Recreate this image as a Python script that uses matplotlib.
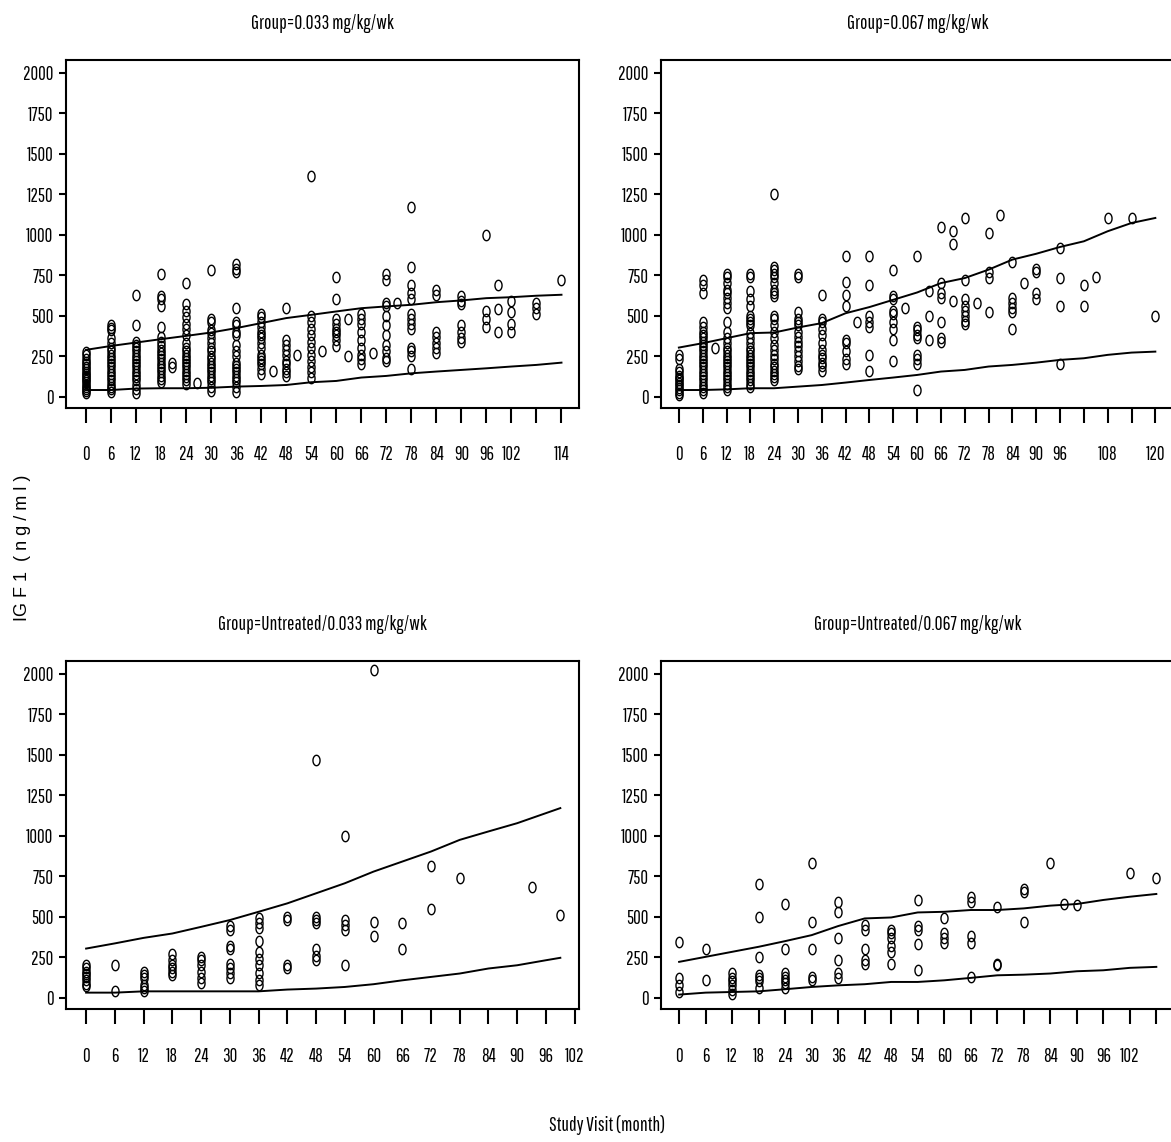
import numpy as np
import matplotlib
matplotlib.use("Agg")
import matplotlib.pyplot as plt
from matplotlib.path import Path

# condensed face close to the SAS output font, with fallbacks
plt.rcParams['font.family'] = ['Pathway Gothic One', 'Sofia Sans Extra Condensed',
                               'Liberation Sans Narrow', 'Liberation Sans', 'DejaVu Sans']

# ---- data ----
y_ticks = [0, 250, 500, 750, 1000, 1250, 1500, 1750, 2000]

# Group=0.033 mg/kg/wk
g033_visits = [0, 6, 12, 18, 20.5, 24, 26.7, 30, 36, 42, 44.8, 48, 50.6, 54, 56.6, 60, 62.8,
               66, 68.8, 72, 74.6, 78, 84, 90, 96, 98.8, 102, 108, 114]
g033_igf = [
    [20, 35, 50, 60, 75, 90, 100, 115, 130, 140, 155, 170, 185, 200, 215, 235, 255, 275],
    [30, 45, 60, 80, 100, 120, 140, 160, 180, 200, 220, 240, 260, 280, 300, 330, 360, 410, 425, 440],
    [25, 50, 75, 100, 120, 140, 160, 180, 200, 220, 240, 260, 280, 300, 320, 340, 440, 630],
    [90, 110, 130, 150, 170, 190, 210, 230, 250, 270, 290, 310, 340, 370, 430, 560, 600, 620, 760],
    [180, 210],
    [80, 100, 120, 140, 160, 180, 200, 220, 240, 260, 280, 300, 330, 380, 420, 450, 490, 530, 570, 700],
    [85],
    [35, 60, 90, 110, 130, 150, 170, 190, 210, 230, 250, 280, 300, 330, 360, 390, 410, 460, 480, 780],
    [30, 60, 90, 110, 130, 150, 170, 190, 210, 250, 280, 320, 380, 400, 440, 460, 550, 770, 790, 820],
    [140, 170, 200, 220, 240, 260, 300, 330, 360, 380, 400, 430, 460, 490, 510],
    [160],
    [130, 150, 170, 200, 220, 260, 290, 320, 350, 550],
    [255],
    [115, 150, 180, 220, 260, 300, 340, 380, 420, 460, 495, 1360],
    [280],
    [310, 350, 380, 400, 420, 450, 480, 600, 740],
    [250, 480],
    [200, 230, 260, 300, 350, 400, 450, 480, 510],
    [270],
    [220, 240, 280, 320, 380, 440, 500, 560, 580, 720, 760],
    [580],
    [170, 250, 280, 300, 420, 450, 480, 510, 600, 640, 690, 800, 1170],
    [270, 300, 330, 370, 400, 630, 660],
    [340, 360, 400, 440, 570, 590, 620],
    [430, 480, 530, 1000],
    [400, 540, 690],
    [400, 450, 520, 590],
    [510, 550, 580],
    [720],
]
g033_curve_month = [0, 6, 12, 18, 24, 30, 36, 42, 48, 54, 60, 66, 72, 78, 84, 90, 96, 102, 108, 114]
g033_upper = [289, 313, 334, 355, 375, 396, 423, 454, 485, 505, 526, 546, 557, 567, 583, 594, 608, 614, 623, 629]
g033_lower = [41, 41, 50, 52, 52, 55, 62, 66, 72, 89, 97, 118, 128, 144, 155, 165, 175, 186, 196, 210]
g033_xlabels = ['0', '6', '12', '18', '24', '30', '36', '42', '48', '54', '60', '66', '72', '78',
                '84', '90', '96', '102', '', '114']

# Group=0.067 mg/kg/wk
g067_visits = [0, 6, 9, 12, 18, 24, 30, 36, 42, 44.8, 48, 54, 57, 60, 63, 66, 69, 72, 75, 78,
               81, 84, 87, 90, 96, 102, 105, 108, 114, 120]
g067_igf = [
    [10, 25, 40, 55, 70, 85, 100, 115, 130, 150, 170, 230, 255],
    [20, 40, 60, 80, 100, 120, 140, 160, 180, 200, 220, 240, 260, 280, 300, 320, 340, 360, 380, 400,
     430, 460, 640, 690, 720],
    [300],
    [40, 60, 80, 100, 120, 140, 160, 180, 200, 220, 240, 260, 280, 300, 330, 360, 400, 460, 550, 580,
     610, 640, 660, 700, 740, 760],
    [60, 80, 100, 120, 140, 160, 180, 200, 220, 240, 260, 280, 300, 330, 360, 390, 440, 460, 480, 500,
     560, 600, 650, 740, 760],
    [100, 120, 140, 160, 180, 200, 230, 260, 290, 320, 360, 400, 440, 480, 500, 620, 640, 660, 700, 740,
     760, 780, 800, 1250],
    [170, 190, 220, 250, 280, 310, 340, 370, 400, 440, 460, 480, 520, 740, 760],
    [160, 190, 210, 240, 260, 290, 330, 380, 420, 460, 480, 630],
    [200, 230, 280, 330, 350, 560, 630, 710, 870],
    [460],
    [160, 260, 430, 460, 500, 690, 870],
    [220, 350, 420, 460, 510, 530, 600, 620, 780],
    [550],
    [40, 200, 230, 260, 360, 380, 410, 430, 870],
    [350, 500, 650],
    [340, 360, 460, 610, 640, 700, 1050],
    [590, 940, 1020],
    [450, 470, 500, 530, 560, 600, 720, 1100],
    [580],
    [520, 730, 770, 1010],
    [1120],
    [420, 520, 550, 580, 610, 830],
    [700],
    [600, 640, 770, 790],
    [200, 560, 730, 920],
    [560, 690],
    [740],
    [1100],
    [1100],
    [500],
]
g067_curve_month = [0, 6, 12, 18, 24, 30, 36, 42, 48, 54, 60, 66, 72, 78, 84, 90, 96, 102, 108, 114, 120]
g067_upper = [303, 330, 361, 392, 396, 427, 454, 515, 553, 598, 643, 701, 732, 784, 846, 882, 924, 959,
              1021, 1072, 1103]
g067_lower = [41, 41, 45, 52, 52, 62, 72, 87, 103, 118, 134, 155, 165, 186, 196, 210, 227, 237, 258, 272, 278]
g067_xlabels = ['0', '6', '12', '18', '24', '30', '36', '42', '48', '54', '60', '66', '72', '78',
                '84', '90', '96', '', '108', '', '120']

# Group=Untreated/0.033 mg/kg/wk
u033_visits = [0, 6, 12, 18, 24, 30, 36, 42, 48, 54, 60, 66, 72, 78, 93, 99]
u033_igf = [
    [70, 85, 110, 130, 145, 160, 180, 200],
    [40, 200],
    [40, 60, 80, 120, 140, 160],
    [140, 160, 180, 200, 230, 270],
    [90, 120, 160, 200, 230, 250],
    [120, 150, 180, 210, 300, 320, 420, 440],
    [80, 110, 150, 200, 240, 280, 350, 430, 460, 490],
    [180, 200, 480, 500],
    [230, 260, 300, 460, 480, 500, 1470],
    [200, 420, 450, 480, 1000],
    [380, 470, 2020],
    [300, 460],
    [550, 810],
    [740],
    [680],
    [510],
]
u033_curve_month = [0, 6, 12, 18, 24, 30, 36, 42, 48, 54, 60, 66, 72, 78, 84, 90, 96, 99]
u033_upper = [303, 335, 369, 396, 437, 479, 530, 582, 644, 706, 778, 840, 902, 974, 1026, 1077, 1139, 1170]
u033_lower = [31, 31, 39, 39, 39, 39, 39, 50, 56, 66, 83, 107, 128, 149, 180, 200, 231, 246]
u033_xlabels = ['0', '6', '12', '18', '24', '30', '36', '42', '48', '54', '60', '66', '72', '78',
                '84', '90', '96', '102']

# Group=Untreated/0.067 mg/kg/wk
u067_visits = [0, 6, 12, 18, 24, 30, 36, 42, 48, 54, 60, 66, 72, 78, 84, 87, 90, 102, 108]
u067_igf = [
    [35, 80, 120, 345],
    [110, 300],
    [20, 50, 80, 100, 120, 150],
    [60, 100, 120, 140, 250, 500, 700],
    [60, 90, 110, 130, 150, 300, 580],
    [110, 130, 300, 470, 830],
    [120, 150, 230, 370, 530, 590],
    [210, 230, 300, 420, 450],
    [210, 280, 320, 370, 400, 420],
    [170, 330, 420, 440, 600],
    [340, 370, 400, 490],
    [130, 340, 380, 590, 620],
    [200, 210, 560],
    [470, 650, 670],
    [830],
    [580],
    [570],
    [770],
    [740],
]
u067_curve_month = [0, 6, 12, 18, 24, 30, 36, 42, 48, 54, 60, 66, 72, 78, 84, 90, 96, 102, 108]
u067_upper = [221, 252, 283, 314, 349, 386, 442, 489, 495, 526, 530, 541, 541, 551, 568, 578, 603, 623, 640]
u067_lower = [19, 31, 35, 39, 52, 66, 76, 83, 97, 97, 107, 122, 138, 142, 149, 163, 169, 184, 190]
u067_xlabels = ['0', '6', '12', '18', '24', '30', '36', '42', '48', '54', '60', '66', '72', '78',
                '84', '90', '96', '102', '']

# narrow "o" marker like the SAS plot symbol
t = np.linspace(0, 2 * np.pi, 41)
oval = Path(np.column_stack([0.68 * np.cos(t), np.sin(t)]), closed=True)


def draw_panel(ax, title, visits, igf, curve_month, upper, lower, xlabels, xlim):
    xs, ys = [], []
    for v, vals in zip(visits, igf):
        xs += [v] * len(vals)
        ys += vals
    ax.plot(xs, ys, linestyle='none', marker=oval, markersize=7.5,
            markerfacecolor='none', markeredgecolor='black', markeredgewidth=1.0)
    ax.plot(curve_month, upper, color='black', lw=1.4)
    ax.plot(curve_month, lower, color='black', lw=1.4)

    ax.set_xlim(*xlim)
    ax.set_ylim(-70, 2078)
    ax.set_xticks(np.arange(0, 6 * len(xlabels), 6))
    ax.set_xticklabels(xlabels)
    ax.set_yticks(y_ticks)
    ax.tick_params(axis='x', direction='out', length=11, width=1.5, pad=16, labelsize=13.5)
    ax.tick_params(axis='y', direction='out', length=5, width=1.5, pad=4, labelsize=13.5)
    for s in ax.spines.values():
        s.set_linewidth(1.5)
    ax.set_title(title, fontsize=14, pad=22)


fig = plt.figure(figsize=(11.71, 11.42), dpi=100)
W, H = 1171.0, 1142.0


def add_axes(left, top, right, bottom):
    return fig.add_axes([left / W, 1 - bottom / H, (right - left) / W, (bottom - top) / H])


ax1 = add_axes(66, 60, 579, 408)
ax2 = add_axes(661, 60, 1174, 408)
ax3 = add_axes(66, 661, 579, 1009)
ax4 = add_axes(661, 661, 1174, 1009)

draw_panel(ax1, 'Group=0.033 mg/kg/wk', g033_visits, g033_igf,
           g033_curve_month, g033_upper, g033_lower, g033_xlabels, (-4.8, 118.2))
draw_panel(ax2, 'Group=0.067 mg/kg/wk', g067_visits, g067_igf,
           g067_curve_month, g067_upper, g067_lower, g067_xlabels, (-4.5, 124.7))
draw_panel(ax3, 'Group=Untreated/0.033 mg/kg/wk', u033_visits, u033_igf,
           u033_curve_month, u033_upper, u033_lower, u033_xlabels, (-4.2, 102.9))
draw_panel(ax4, 'Group=Untreated/0.067 mg/kg/wk', u067_visits, u067_igf,
           u067_curve_month, u067_upper, u067_lower, u067_xlabels, (-4.1, 112.0))

fig.text(23 / W, 1 - 548 / H, 'IG F 1  ( n g / m l )', rotation=90, ha='center', va='center',
         fontsize=13, family=['Liberation Sans', 'DejaVu Sans'])
fig.text(607 / W, 1 - 1125 / H, 'Study Visit (month)', ha='center', va='center', fontsize=14)

fig.savefig('out.png', dpi=100)
